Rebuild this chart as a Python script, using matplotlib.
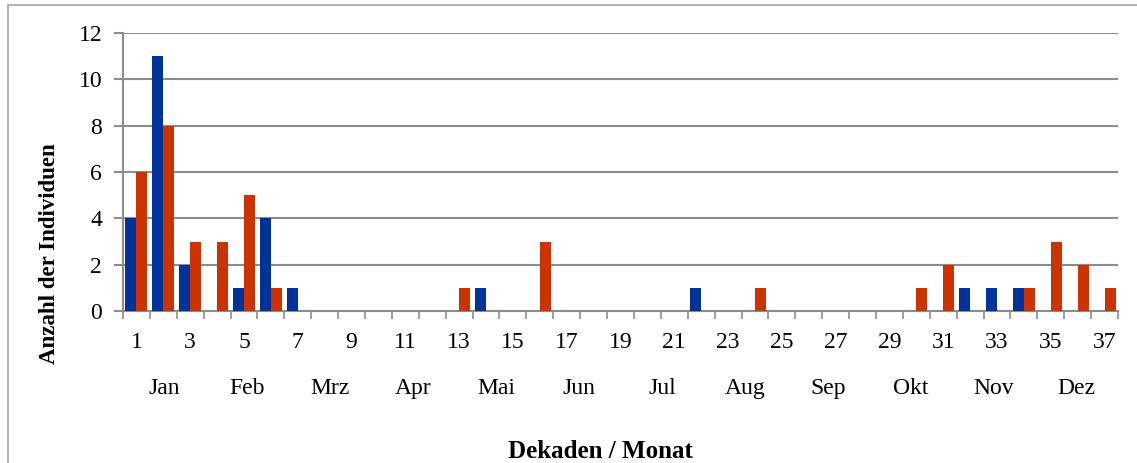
import matplotlib
matplotlib.use("Agg")
import matplotlib.pyplot as plt
from matplotlib.patches import Rectangle
import matplotlib.transforms as mtransforms
import numpy as np

decades = list(range(1, 38))
blue = [4, 11, 2, 0, 1, 4, 1, 0, 0, 0, 0, 0, 0, 1, 0, 0, 0, 0, 0, 0, 0, 1, 0, 0, 0,
        0, 0, 0, 0, 0, 0, 1, 1, 1, 0, 0, 0]
red = [6, 8, 3, 3, 5, 1, 0, 0, 0, 0, 0, 0, 1, 0, 0, 3, 0, 0, 0, 0, 0, 0, 0, 1, 0,
       0, 0, 0, 0, 1, 2, 0, 0, 1, 3, 2, 1]
months = ["Jan", "Feb", "Mrz", "Apr", "Mai", "Jun", "Jul", "Aug", "Sep", "Okt", "Nov", "Dez"]
yticks = [0, 2, 4, 6, 8, 10, 12]

plt.rcParams['font.family'] = ['Liberation Serif', 'DejaVu Serif']

W, H = 1137, 463
fig = plt.figure(figsize=(W / 100, H / 100), dpi=100)
ax = fig.add_axes([123 / W, 1 - 311 / H, (1118 - 123) / W, (311 - 33) / H])

x = np.arange(len(decades))
bw = 0.41
blue_c = "#003399"
red_c = "#CC3300"
ax.bar(x - bw / 2, blue, width=bw, color=blue_c, zorder=3)
ax.bar(x + bw / 2, red, width=bw, color=red_c, zorder=3)

ax.set_xlim(-0.5, len(decades) - 0.5)
ax.set_ylim(0, 12)
ax.set_yticks(yticks)
ax.set_yticklabels([str(v) for v in yticks])
ax.yaxis.grid(True, color="#8c8c8c", linewidth=1.5, zorder=0)
ax.set_axisbelow(True)

fs = 17
ax.set_xticks(x[::2])
ax.set_xticklabels([str(d) for d in decades[::2]])
ax.set_xticks(np.arange(-0.5, len(decades), 1.0), minor=True)
ax.tick_params(axis='x', which='major', length=0, pad=15, labelsize=fs)
ax.tick_params(axis='x', which='minor', length=6, width=1.2, color="#8c8c8c", direction='out')
ax.tick_params(axis='y', which='major', length=6.5, width=1.5, color="#8c8c8c", pad=8.5, labelsize=fs)

for s in ["top", "right"]:
    ax.spines[s].set_visible(False)
for s in ["left", "bottom"]:
    ax.spines[s].set_color("#8c8c8c")
    ax.spines[s].set_linewidth(1.5)

trans = mtransforms.blended_transform_factory(ax.transAxes, fig.transFigure)
for i, m in enumerate(months):
    ax.text((i + 0.5) / 12, 1 - 394 / H, m, transform=trans, ha='center', va='baseline', fontsize=fs)

fig.text(600 / W, 1 - 458 / H, "Dekaden / Monat", ha='center', va='baseline', fontsize=18, fontweight='bold')
fig.text(50 / W, 1 - 254 / H, "Anzahl der Individuen", ha='center', va='center', fontsize=16.5,
         fontweight='bold', rotation=90)

fig.patches.append(Rectangle((8 / W, -0.1), 1.2, 1 - 5 / H + 0.1, transform=fig.transFigure,
                             fill=False, edgecolor="#a6a6a6", linewidth=1.2))

fig.savefig("out.png", dpi=100)
